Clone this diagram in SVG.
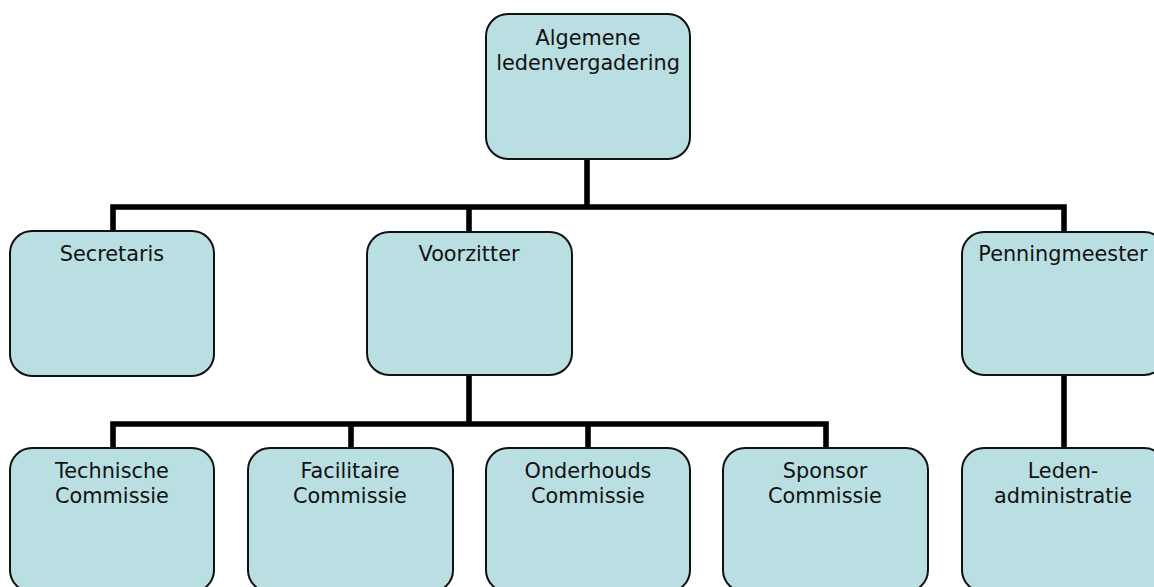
<svg xmlns="http://www.w3.org/2000/svg" width="1154" height="587" viewBox="0 0 1154 587">
<style>
.box{fill:#B9DFE2;stroke:#111;stroke-width:2}
.lbl{font-family:"DejaVu Sans","Verdana",sans-serif;font-size:20.8px;fill:#111;text-anchor:middle}
.conn{fill:none;stroke:#000;stroke-width:5.6;stroke-linejoin:miter;stroke-linecap:butt}
</style>
<rect width="1154" height="587" fill="#fff"/>
<g id="connectors">
<path class="conn" d="M113,231 V207 H1064 V232"/>
<path class="conn" d="M587,159 V207"/>
<path class="conn" d="M469,207 V232"/>
<path class="conn" d="M113,448 V424 H826 V448"/>
<path class="conn" d="M469,375 V424"/>
<path class="conn" d="M351,424 V448"/>
<path class="conn" d="M588,424 V448"/>
<path class="conn" d="M1064,375 V448"/>
</g>
<g id="alv">
<rect class="box" x="486" y="14" width="204" height="145" rx="22"/>
<text class="lbl" x="588" y="45">Algemene</text>
<text class="lbl" x="588" y="70">ledenvergadering</text>
</g>
<g id="secretaris">
<rect class="box" x="10" y="231" width="204" height="145" rx="22"/>
<text class="lbl" x="112" y="261">Secretaris</text>
</g>
<g id="voorzitter">
<rect class="box" x="367" y="232" width="205" height="143" rx="22"/>
<text class="lbl" x="469" y="261">Voorzitter</text>
</g>
<g id="penningmeester">
<rect class="box" x="962" y="232" width="204" height="143" rx="22"/>
<text class="lbl" x="1063" y="261">Penningmeester</text>
</g>
<g id="technische">
<rect class="box" x="10" y="448" width="204" height="144" rx="22"/>
<text class="lbl" x="112" y="478">Technische</text>
<text class="lbl" x="112" y="503">Commissie</text>
</g>
<g id="facilitaire">
<rect class="box" x="248" y="448" width="205" height="144" rx="22"/>
<text class="lbl" x="350" y="478">Facilitaire</text>
<text class="lbl" x="350" y="503">Commissie</text>
</g>
<g id="onderhouds">
<rect class="box" x="486" y="448" width="204" height="144" rx="22"/>
<text class="lbl" x="588" y="478">Onderhouds</text>
<text class="lbl" x="588" y="503">Commissie</text>
</g>
<g id="sponsor">
<rect class="box" x="723" y="448" width="205" height="144" rx="22"/>
<text class="lbl" x="825" y="478">Sponsor</text>
<text class="lbl" x="825" y="503">Commissie</text>
</g>
<g id="ledenadministratie">
<rect class="box" x="962" y="448" width="204" height="144" rx="22"/>
<text class="lbl" x="1063" y="478">Leden-</text>
<text class="lbl" x="1063" y="503">administratie</text>
</g>
</svg>
